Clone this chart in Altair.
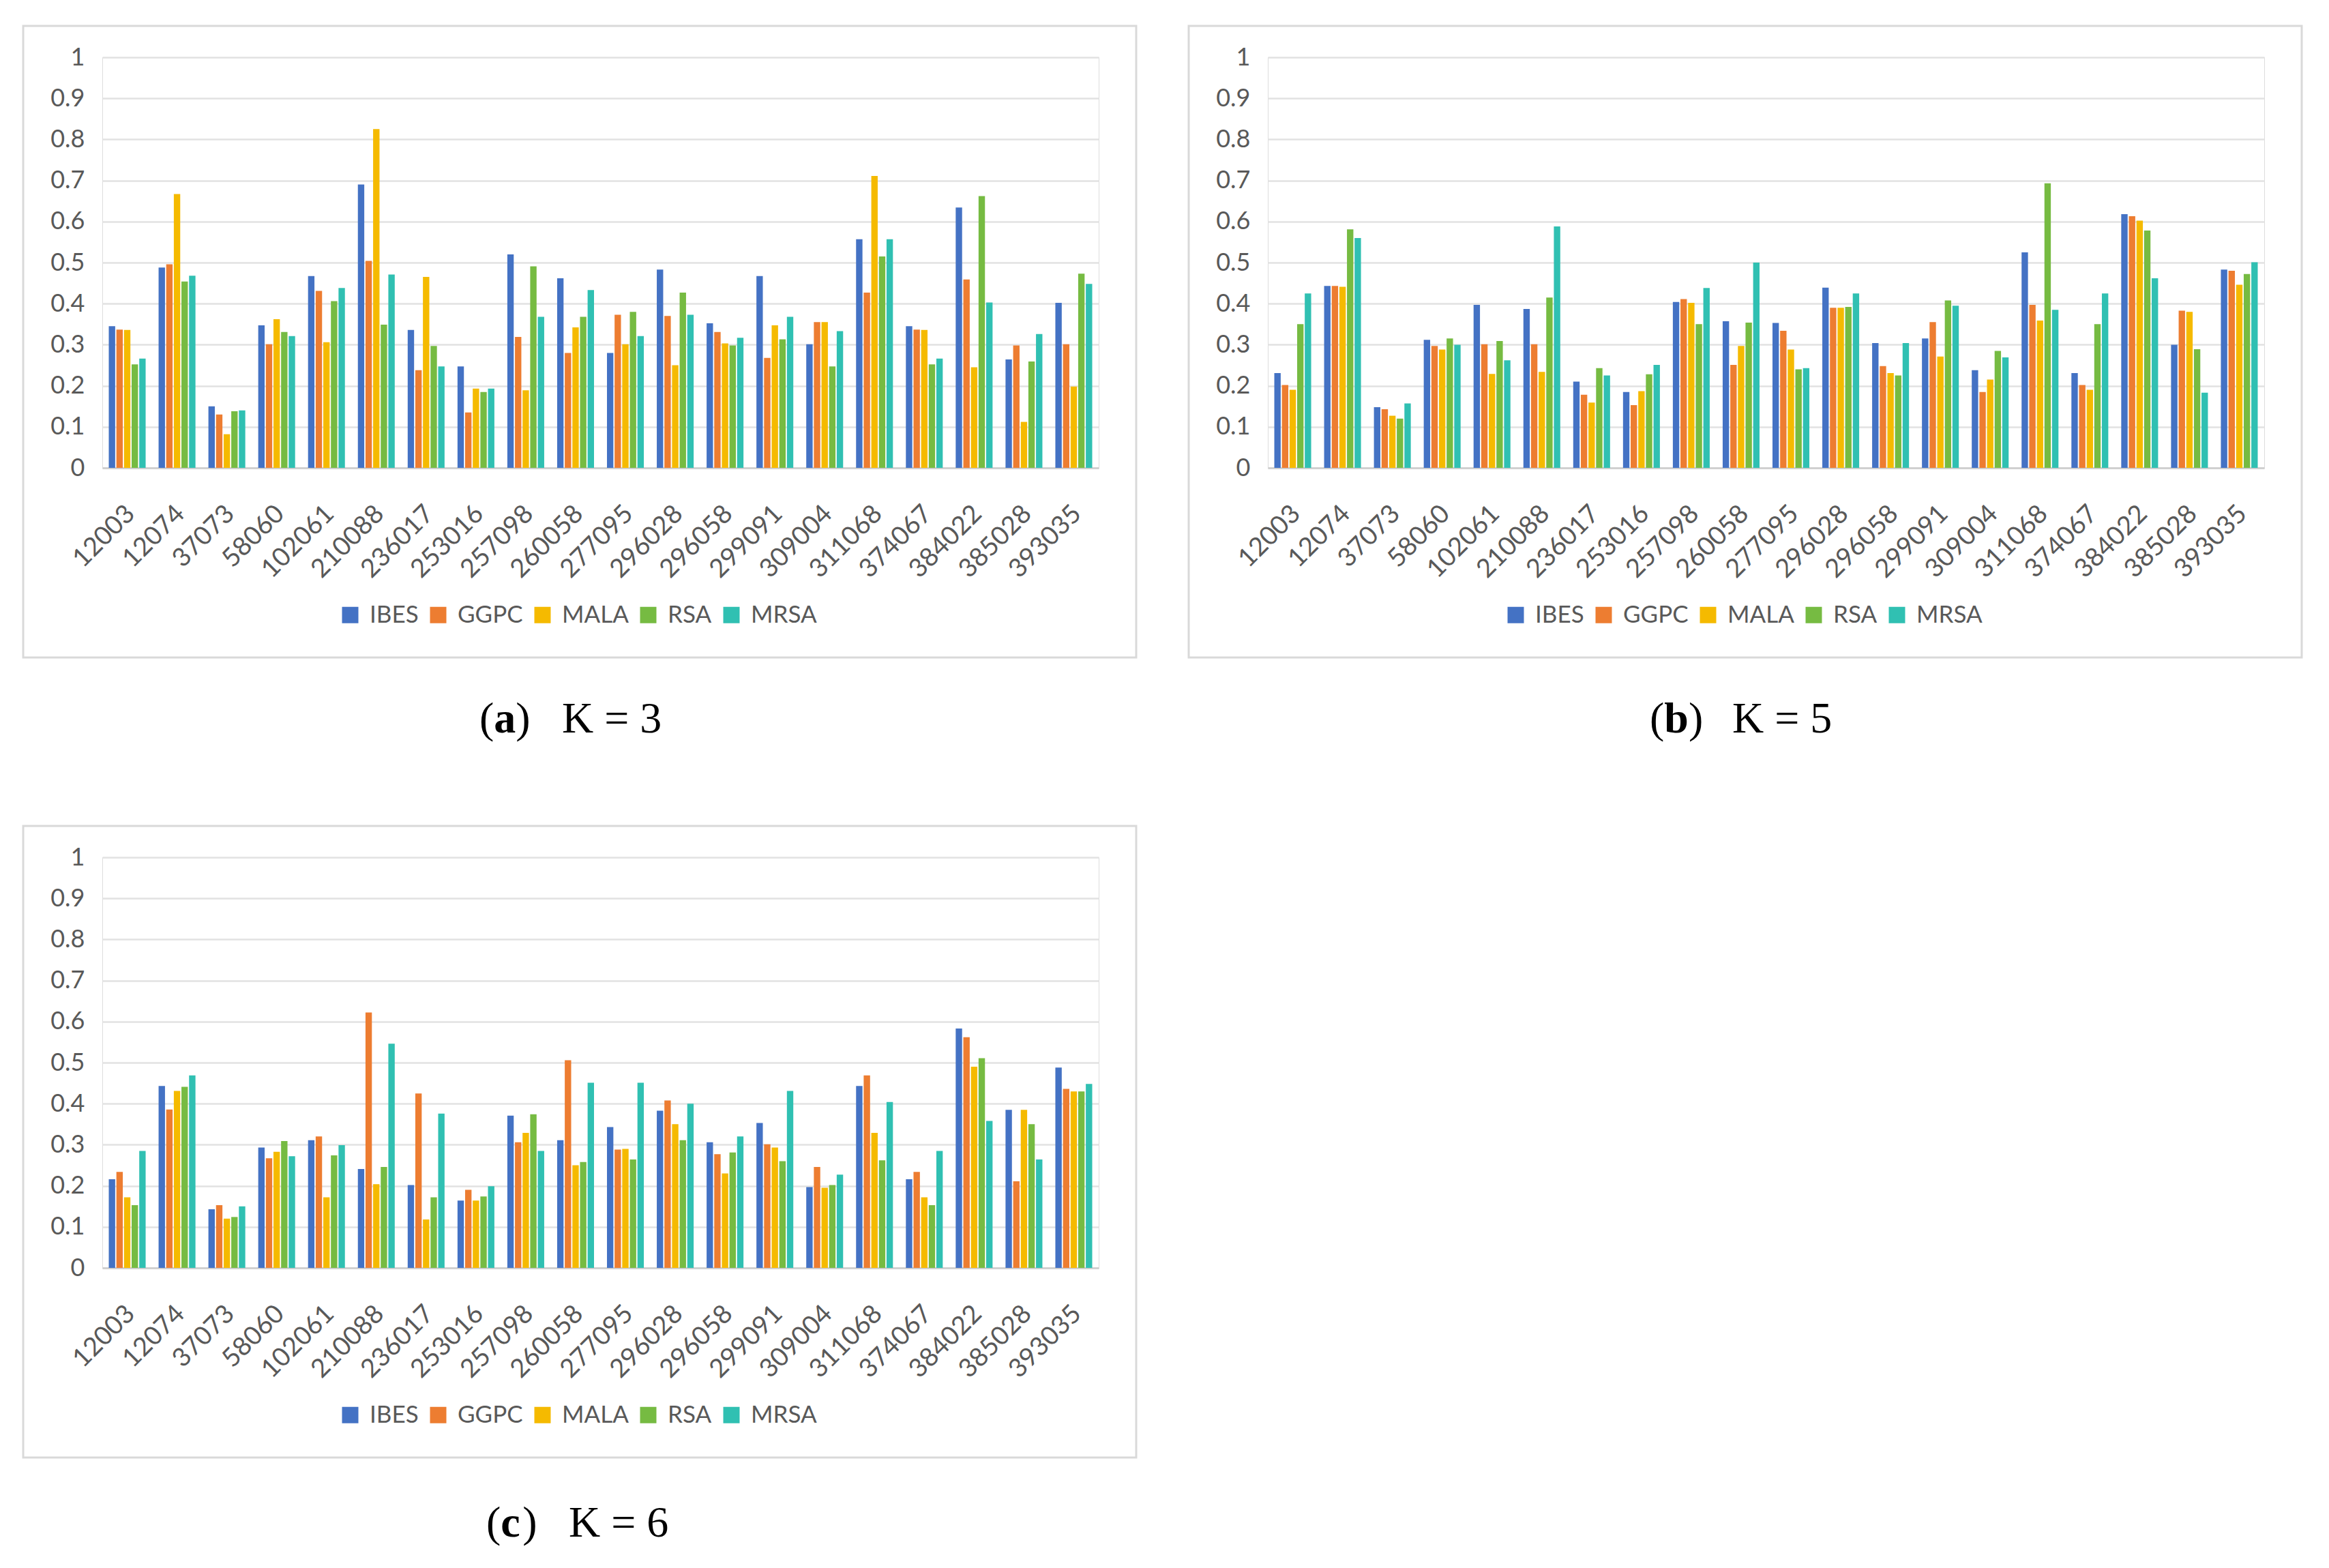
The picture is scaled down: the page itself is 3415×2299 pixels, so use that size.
import altair as alt
import pandas as pd

ids = ["12003", "12074", "37073", "58060", "102061", "210088", "236017", "253016",
       "257098", "260058", "277095", "296028", "296058", "299091", "309004", "311068",
       "374067", "384022", "385028", "393035"]
methods = ["IBES", "GGPC", "MALA", "RSA", "MRSA"]
colors = ["#4472C4", "#ED7D31", "#F5BA00", "#76BB42", "#30C0B2"]

# K = 3
IBES_3 = [0.345, 0.488, 0.150, 0.347, 0.467, 0.690, 0.336, 0.247, 0.520, 0.462,
          0.280, 0.483, 0.352, 0.467, 0.301, 0.557, 0.345, 0.634, 0.264, 0.402]
GGPC_3 = [0.337, 0.496, 0.130, 0.301, 0.431, 0.504, 0.238, 0.135, 0.319, 0.280,
          0.373, 0.370, 0.331, 0.268, 0.355, 0.427, 0.337, 0.459, 0.298, 0.301]
MALA_3 = [0.336, 0.667, 0.082, 0.362, 0.306, 0.825, 0.465, 0.193, 0.189, 0.342,
          0.301, 0.250, 0.303, 0.347, 0.355, 0.711, 0.336, 0.245, 0.112, 0.198]
RSA_3 = [0.252, 0.454, 0.138, 0.331, 0.406, 0.349, 0.297, 0.185, 0.491, 0.368,
         0.380, 0.427, 0.298, 0.313, 0.247, 0.515, 0.252, 0.662, 0.259, 0.473]
MRSA_3 = [0.266, 0.468, 0.140, 0.321, 0.438, 0.471, 0.247, 0.193, 0.368, 0.433,
          0.321, 0.373, 0.317, 0.368, 0.333, 0.557, 0.266, 0.403, 0.326, 0.448]

# K = 5
IBES_5 = [0.231, 0.443, 0.148, 0.312, 0.397, 0.387, 0.210, 0.185, 0.404, 0.357,
          0.353, 0.439, 0.304, 0.315, 0.238, 0.525, 0.231, 0.618, 0.300, 0.483]
GGPC_5 = [0.202, 0.443, 0.143, 0.297, 0.301, 0.301, 0.178, 0.153, 0.411, 0.251,
          0.334, 0.390, 0.248, 0.355, 0.185, 0.397, 0.202, 0.613, 0.383, 0.480]
MALA_5 = [0.190, 0.441, 0.127, 0.288, 0.229, 0.234, 0.159, 0.187, 0.402, 0.297,
          0.288, 0.390, 0.231, 0.271, 0.215, 0.359, 0.190, 0.602, 0.380, 0.446]
RSA_5 = [0.350, 0.581, 0.120, 0.315, 0.309, 0.415, 0.243, 0.228, 0.350, 0.354,
         0.240, 0.392, 0.225, 0.408, 0.285, 0.693, 0.350, 0.578, 0.289, 0.472]
MRSA_5 = [0.425, 0.560, 0.157, 0.300, 0.262, 0.588, 0.225, 0.251, 0.438, 0.500,
          0.243, 0.425, 0.304, 0.395, 0.269, 0.385, 0.425, 0.462, 0.183, 0.501]

# K = 6
IBES_6 = [0.216, 0.443, 0.143, 0.293, 0.311, 0.241, 0.202, 0.164, 0.371, 0.311,
          0.343, 0.383, 0.306, 0.353, 0.197, 0.443, 0.216, 0.583, 0.385, 0.488]
GGPC_6 = [0.234, 0.386, 0.153, 0.267, 0.320, 0.622, 0.425, 0.190, 0.306, 0.506,
          0.288, 0.408, 0.277, 0.301, 0.246, 0.469, 0.234, 0.562, 0.211, 0.436]
MALA_6 = [0.172, 0.431, 0.120, 0.283, 0.172, 0.204, 0.118, 0.164, 0.329, 0.250,
          0.290, 0.350, 0.230, 0.293, 0.195, 0.329, 0.172, 0.490, 0.385, 0.430]
RSA_6 = [0.153, 0.441, 0.124, 0.309, 0.274, 0.246, 0.172, 0.174, 0.374, 0.258,
         0.264, 0.311, 0.281, 0.260, 0.202, 0.262, 0.153, 0.511, 0.350, 0.430]
MRSA_6 = [0.285, 0.469, 0.150, 0.272, 0.299, 0.546, 0.376, 0.199, 0.285, 0.451,
          0.451, 0.400, 0.320, 0.431, 0.227, 0.404, 0.285, 0.358, 0.264, 0.448]

y_ticks = [0, 0.1, 0.2, 0.3, 0.4, 0.5, 0.6, 0.7, 0.8, 0.9, 1]
captions = [("a", "K = 3"), ("b", "K = 5"), ("c", "K = 6")]

W, H = 1461, 602
TXT = "#595959"
FONT = "Lato"
FS = 36


def make_df(series):
    rows = []
    for m, vals in zip(methods, series):
        for i, v in zip(ids, vals):
            rows.append({"id": i, "method": m, "value": v})
    return pd.DataFrame(rows)


def panel(series, cap, x0, ybase):
    df = make_df(series)
    one = pd.DataFrame({"f": [0]})
    frame = alt.Chart(one).mark_rect(
        fill="white", fillOpacity=0, stroke="#d9d9d9", strokeWidth=3
    ).encode(
        x=alt.value(-116), x2=alt.value(W + 55),
        y=alt.value(-46), y2=alt.value(H + 278)
    )
    bars = alt.Chart(df).mark_bar().encode(
        x=alt.X("id:N", sort=ids,
                scale=alt.Scale(paddingInner=0.26, paddingOuter=0.13),
                axis=alt.Axis(title=None, labelAngle=-45, ticks=False,
                              labelAlign="right", labelBaseline="top",
                              domainColor="#d0d0d0", domainWidth=3,
                              labelFont=FONT, labelFontSize=38, labelColor=TXT,
                              labelPadding=48, labelOffset=-8, grid=False)),
        xOffset=alt.XOffset("method:N", sort=methods,
                            scale=alt.Scale(paddingInner=0.16)),
        y=alt.Y("value:Q", scale=alt.Scale(domain=[0, 1]),
                axis=alt.Axis(title=None, values=y_ticks, format=".1~f",
                              domain=False, ticks=False, grid=True,
                              gridColor="#e2e2e2", gridWidth=2.5,
                              labelFont=FONT, labelFontSize=FS, labelColor=TXT,
                              labelPadding=26)),
        color=alt.Color("method:N", sort=methods,
                        scale=alt.Scale(domain=methods, range=colors),
                        legend=alt.Legend(orient="none", legendX=346, legendY=800,
                                          direction="horizontal", title=None,
                                          symbolType="square", symbolSize=576,
                                          symbolStrokeWidth=0, labelFont=FONT,
                                          labelFontSize=35, labelColor=TXT,
                                          labelOffset=11, columnPadding=11))
    )
    letter, ktxt = cap
    fs = 64
    t1 = alt.Chart(one).mark_text(font="Liberation Serif", fontSize=fs, align="left",
                                  baseline="alphabetic", color="black").encode(
        x=alt.value(x0), y=alt.value(ybase), text=alt.value("("))
    t2 = alt.Chart(one).mark_text(font="Liberation Serif", fontSize=fs, align="left",
                                  baseline="alphabetic", color="black",
                                  fontWeight="bold").encode(
        x=alt.value(x0 + 0.333 * fs), y=alt.value(ybase), text=alt.value(letter))
    t3 = alt.Chart(one).mark_text(font="Liberation Serif", fontSize=fs, align="left",
                                  baseline="alphabetic", color="black").encode(
        x=alt.value(x0 + 0.833 * fs + (0.056 * fs if letter == "b" else 0)),
        y=alt.value(ybase), text=alt.value(")"))
    t4 = alt.Chart(one).mark_text(font="Liberation Serif", fontSize=fs, align="left",
                                  baseline="alphabetic", color="black").encode(
        x=alt.value(x0 + 121), y=alt.value(ybase), text=alt.value(ktxt))
    return alt.layer(frame, bars, t1, t2, t3, t4).properties(width=W, height=H)


pa = panel([IBES_3, GGPC_3, MALA_3, RSA_3, MRSA_3], captions[0], 553, 990)
pb = panel([IBES_5, GGPC_5, MALA_5, RSA_5, MRSA_5], captions[1], 560, 990)
pc = panel([IBES_6, GGPC_6, MALA_6, RSA_6, MRSA_6], captions[2], 563, 996)

chart = alt.concat(
    pa, pb, pc, columns=2, spacing={"row": 571, "column": 248}, bounds="flush"
).resolve_legend(
    color="independent"
).properties(
    padding={"left": 24, "top": 28, "right": 10, "bottom": 10}
).configure_view(strokeWidth=0).configure(background="white")

chart.save("out.html", embed_options={"renderer": "svg", "actions": False})
